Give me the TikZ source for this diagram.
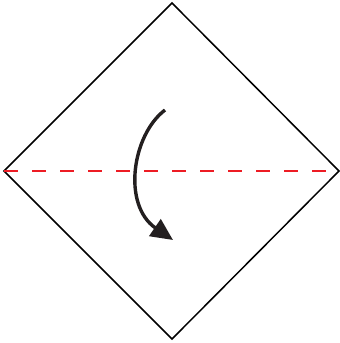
\documentclass[tikz,border=0pt]{standalone}
\usetikzlibrary{arrows.meta}
\definecolor{foldred}{RGB}{237,28,36}
\definecolor{arrowblk}{RGB}{35,31,32}
\tikzset{
  paper/.style={draw=black, line width=1.5pt, line join=miter},
  foldline/.style={draw=foldred, line width=1.6pt, dash pattern=on 14pt off 14pt},
  foldarrow/.style={draw=arrowblk, line width=3.4pt, -{Triangle[length=22pt,width=20pt]}}
}
\begin{document}
\begin{tikzpicture}[x=1pt,y=-1pt]
\useasboundingbox (0,0) rectangle (340,343);
\coordinate (T) at (172,3);
\coordinate (L) at (4,171);
\coordinate (R) at (339,171);
\coordinate (B) at (172,339);
\draw[paper] (T) -- (R) -- (B) -- (L) -- cycle;
\draw[foldline] (L) -- (R);
\coordinate (s) at (165,110);
\coordinate (e) at (173,240);
\draw[foldarrow] (s) .. controls (132,135) and (122,205) .. (e);
\end{tikzpicture}
\end{document}
